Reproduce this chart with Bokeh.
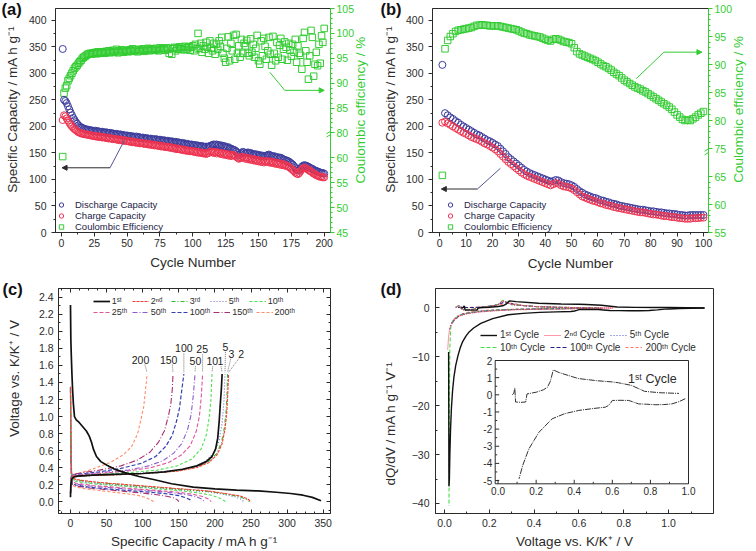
import numpy as np
from bokeh.plotting import figure
from bokeh.models import (Range1d, LinearAxis, FixedTicker, SingleIntervalTicker, Legend, LegendItem,
                          Arrow, NormalHead, Label, Title, PrintfTickFormatter, CustomJSTickFormatter)
from bokeh.layouts import column, row
from bokeh.embed import file_html
from bokeh.resources import INLINE
from bokeh.core.properties import value

FONT = "Liberation Sans"
DARK = "#2b2b2b"
GREEN = "#33cc33"
BLUE_M = "#3c3c9c"
RED_M = "#ee3350"
NB = "\u00a0"

# ======================= DATA =======================
# ---- (a) 200 cycles ----
a_cycle = list(range(1, 201))
a_dis = [346, 250, 248, 244, 238, 232, 226, 221, 216, 212,
         208, 205, 202, 200, 198, 197, 196, 195, 194, 194,
         193, 193, 192, 192, 191, 192, 190, 191, 190, 189,
         190, 189, 188, 189, 188, 187, 188, 186, 187, 186,
         185, 186, 185, 184, 185, 183, 184, 183, 182, 183,
         182, 181, 182, 180, 181, 180, 181, 179, 180, 179,
         178, 179, 178, 177, 178, 177, 176, 177, 176, 176,
         175, 176, 175, 174, 175, 174, 173, 174, 173, 172,
         173, 172, 171, 172, 171, 170, 171, 169, 170, 169,
         168, 169, 167, 168, 166, 167, 166, 165, 166, 165,
         164, 165, 163, 164, 163, 162, 163, 162, 161, 162,
         161, 162, 163, 164, 165, 166, 165, 166, 164, 165,
         163, 164, 162, 163, 161, 160, 161, 159, 158, 157,
         156, 155, 153, 150, 146, 148, 150, 152, 151, 149,
         150, 151, 149, 150, 148, 147, 148, 146, 147, 145,
         146, 144, 145, 143, 144, 145, 146, 147, 145, 144,
         143, 144, 142, 141, 142, 140, 141, 139, 138, 137,
         136, 135, 134, 132, 130, 128, 125, 122, 119, 117,
         118, 121, 124, 126, 127, 126, 125, 124, 122, 121,
         120, 118, 117, 116, 115, 114, 113, 112, 112, 111]
a_chg = [212, 221, 219, 215, 211, 207, 203, 200, 197, 195,
         193, 191, 189, 188, 187, 186, 186, 185, 185, 184,
         184, 183, 183, 182, 182, 181, 182, 180, 181, 180,
         179, 180, 179, 178, 179, 177, 178, 177, 176, 177,
         176, 175, 176, 174, 175, 174, 173, 174, 172, 173,
         172, 171, 172, 170, 171, 170, 169, 170, 169, 168,
         169, 168, 167, 168, 167, 166, 167, 165, 166, 165,
         164, 165, 164, 163, 164, 162, 163, 162, 161, 162,
         161, 160, 161, 159, 160, 158, 159, 157, 158, 157,
         156, 157, 155, 156, 154, 155, 154, 153, 154, 153,
         152, 153, 151, 152, 150, 151, 150, 149, 150, 148,
         149, 150, 152, 153, 151, 150, 152, 149, 151, 150,
         148, 150, 147, 149, 146, 148, 145, 147, 144, 146,
         146, 145, 143, 141, 139, 140, 142, 143, 141, 139,
         141, 138, 140, 137, 139, 136, 138, 135, 137, 134,
         136, 133, 135, 132, 134, 133, 135, 132, 134, 131,
         133, 130, 132, 129, 131, 128, 130, 127, 129, 126,
         127, 125, 124, 122, 120, 118, 116, 113, 111, 110,
         112, 116, 119, 121, 122, 121, 120, 118, 116, 115,
         113, 111, 110, 108, 107, 106, 105, 105, 104, 104]
a_ce = [61, 88, 89, 89.5, 90.5, 91, 91.5, 92, 92.5, 93,
        93.3, 93.6, 94, 94.3, 94.6, 95, 95.2, 95.4, 95.6, 95.8,
        95.9, 96, 95.8, 96.1, 96, 96.2, 95.9, 96.3, 96, 96.2,
        96.1, 96.3, 96, 96.4, 96.2, 96.5, 96.1, 96.3, 96.6, 96.2,
        96.4, 96.8, 96.1, 96.5, 96.3, 96.7, 96.2, 96.6, 96.4, 96.5,
        96.3, 96.7, 96.5, 96.9, 96.4, 96.6, 96.8, 96.3, 96.7, 96.5,
        96.6, 96.9, 96.4, 96.8, 96.6, 97, 96.5, 96.9, 96.7, 96.8,
        96.6, 97, 96.8, 96.5, 97.1, 96.7, 96.9, 97, 96.6, 97.1,
        96.8, 96, 97, 95.8, 96.9, 97.2, 96.5, 97.1, 96.8, 97.3,
        96.9, 97.2, 96.7, 97.4, 96.8, 97.1, 97.3, 96.6, 97.2, 97.5,
        96.5, 97.8, 96.9, 100, 97, 98, 96.2, 97.5, 96.8, 98.2,
        97.2, 96, 98.5, 97, 96.5, 98, 95.8, 97.8, 96.8, 98.5,
        97.4, 99.2, 96, 95, 94.2, 97, 99.3, 94.5, 98, 96.5,
        99.6, 94.8, 99.8, 96, 97.5, 95.2, 98.8, 96, 98, 97.5,
        98.6, 96, 95.5, 98.9, 96.2, 97.8, 95.2, 97, 99.6, 94.5,
        93.8, 98.5, 95.5, 99, 97.4, 94.8, 96.5, 99.2, 95.8, 93.6,
        99.4, 96, 94.5, 98.2, 95.2, 97.6, 99, 94.8, 96.8, 98.3,
        97.2, 94.6, 98, 96.6, 95.4, 97.8, 96.2, 98.8, 94.2, 97.5,
        96, 95.6, 92.8, 99, 100.2, 96.5, 94.2, 90.8, 95.5, 100.6,
        99.2, 91.4, 93.8, 96.2, 93.5, 97.8, 94, 99.5, 98.2, 101]
a_ce_ticks = [45, 50, 55, 60, 80, 85, 90, 95, 100, 105]

# ---- (b) 100 cycles ----
b_cycle = list(range(1, 101))
b_dis = [316, 225, 221, 217, 214, 210, 207, 203, 200, 197,
         194, 191, 188, 185, 183, 180, 177, 174, 172, 169,
         166, 163, 158, 153, 148, 142, 138, 134, 130, 126,
         122, 118, 115, 112, 110, 108, 106, 104, 102, 100,
         98, 96, 97, 99, 98, 95, 93, 92, 91, 89,
         86, 82, 78, 75, 72, 70, 68, 66, 65, 63,
         61, 60, 58, 57, 55, 54, 53, 51, 50, 49,
         48, 47, 46, 45, 44, 43, 43, 42, 41, 40,
         40, 39, 38, 38, 37, 36, 36, 35, 35, 34,
         33, 33, 32, 32, 33, 33, 33, 33, 33, 33]
b_chg = [207, 209, 206, 203, 200, 197, 194, 191, 188, 186,
         183, 180, 178, 176, 174, 171, 168, 166, 163, 160,
         157, 153, 148, 143, 138, 133, 129, 125, 121, 117,
         113, 110, 107, 105, 103, 101, 99, 97, 95, 93,
         91, 89, 91, 93, 92, 89, 87, 86, 85, 83,
         80, 76, 72, 68, 66, 64, 62, 60, 59, 57,
         55, 54, 52, 51, 50, 48, 47, 46, 45, 44,
         43, 42, 41, 40, 39, 38, 38, 37, 36, 35,
         34, 34, 33, 32, 31, 31, 30, 29, 29, 28,
         27, 27, 26, 26, 26, 27, 27, 27, 28, 28]
b_ce = [65.4, 92.8, 94.3, 95.0, 95.5, 95.9, 96.1, 96.2, 96.3, 96.4,
        96.5, 96.6, 96.8, 97.0, 97.0, 97.1, 97.0, 97.0, 96.9, 96.9,
        96.9, 96.9, 96.8, 96.7, 96.6, 96.5, 96.4, 96.3, 96.2, 96.0,
        95.8, 95.6, 95.5, 95.3, 95.2, 95.1, 95.0, 94.9, 94.7, 94.5,
        94.3, 94.2, 94.5, 94.6, 94.5, 94.3, 94.1, 94.0, 93.9, 93.7,
        93.0, 92.3, 91.9, 91.7, 91.5, 91.3, 91.1, 90.9, 90.7, 90.4,
        90.1, 89.8, 89.6, 89.3, 89.0, 88.6, 88.3, 88.0, 87.6, 87.2,
        86.9, 86.6, 86.3, 86.0, 85.8, 85.6, 85.3, 85.1, 84.8, 84.5,
        84.2, 83.9, 83.6, 83.3, 83.0, 82.7, 82.4, 82.0, 81.5, 81.0,
        80.6, 80.2, 80.0, 80.1, 80.0, 80.3, 80.6, 81.0, 81.3, 81.6]
b_ce_ticks = [55, 60, 65, 75, 80, 85, 90, 95, 100]

# ---- (c) charge/discharge profiles (capacity mAh/g, voltage V) ----
c1_dis_x = [0, 0.5, 1.2, 2, 3, 4, 5.5, 8, 12, 17, 22, 26, 29, 32, 36, 42, 50, 60, 75, 95, 115, 140, 170, 200, 230, 260, 285, 305, 322, 335, 347]
c1_dis_v = [2.31, 1.9, 1.7, 1.5, 1.3, 1.15, 1.0, 0.96, 0.93, 0.88, 0.83, 0.77, 0.70, 0.61, 0.53, 0.47, 0.43, 0.385, 0.34, 0.295, 0.26, 0.21, 0.17, 0.15, 0.135, 0.125, 0.11, 0.095, 0.075, 0.05, 0.01]
c1_chg_x = [0, 0.5, 2, 5, 10, 30, 60, 100, 130, 155, 175, 188, 196, 201, 204, 206, 207.5, 209, 210]
c1_chg_v = [0.05, 0.2, 0.27, 0.29, 0.30, 0.31, 0.32, 0.33, 0.35, 0.38, 0.42, 0.47, 0.53, 0.62, 0.75, 0.95, 1.15, 1.33, 1.5]
c2_dis_x = [0, 0.5, 1.5, 3, 8, 20, 40, 70, 100, 130, 160, 190, 215, 235, 245, 250]
c2_dis_v = [1.35, 0.8, 0.35, 0.28, 0.26, 0.245, 0.225, 0.205, 0.185, 0.165, 0.145, 0.125, 0.095, 0.065, 0.035, 0.0]
c2_chg_x = [0, 1, 3, 10, 40, 80, 120, 150, 175, 192, 203, 210, 214, 216.5, 218, 219]
c2_chg_v = [0.1, 0.26, 0.29, 0.30, 0.31, 0.32, 0.34, 0.36, 0.40, 0.46, 0.55, 0.68, 0.85, 1.05, 1.3, 1.5]
c3_dis_x = [0, 0.5, 1.5, 3, 8, 20, 40, 70, 100, 130, 160, 190, 215, 233, 243, 248]
c3_dis_v = [1.35, 0.8, 0.34, 0.27, 0.255, 0.24, 0.22, 0.2, 0.18, 0.16, 0.14, 0.12, 0.09, 0.06, 0.03, 0.0]
c3_chg_x = [0, 1, 3, 10, 40, 80, 120, 150, 175, 191, 202, 209, 213, 215.5, 217, 217.5]
c3_chg_v = [0.1, 0.26, 0.29, 0.30, 0.31, 0.32, 0.34, 0.365, 0.405, 0.47, 0.56, 0.69, 0.86, 1.06, 1.3, 1.5]
c5_dis_x = [0, 0.5, 1.5, 3, 8, 20, 40, 70, 100, 130, 160, 190, 212, 228, 236, 240]
c5_dis_v = [1.34, 0.75, 0.33, 0.26, 0.245, 0.23, 0.21, 0.19, 0.17, 0.155, 0.135, 0.115, 0.085, 0.055, 0.028, 0.0]
c5_chg_x = [0, 1, 3, 10, 40, 80, 120, 150, 172, 188, 199, 206, 210, 212.5, 214]
c5_chg_v = [0.1, 0.26, 0.29, 0.30, 0.31, 0.325, 0.345, 0.37, 0.41, 0.48, 0.58, 0.72, 0.92, 1.18, 1.5]
c10_dis_x = [0, 0.5, 1.5, 3, 8, 30, 60, 90, 120, 150, 175, 195, 207, 215]
c10_dis_v = [1.34, 0.7, 0.3, 0.25, 0.235, 0.21, 0.19, 0.17, 0.15, 0.13, 0.105, 0.075, 0.04, 0.0]
c10_chg_x = [0, 1, 3, 10, 40, 80, 120, 148, 168, 181, 188, 192, 194.5, 196]
c10_chg_v = [0.1, 0.26, 0.29, 0.30, 0.32, 0.34, 0.37, 0.42, 0.5, 0.62, 0.78, 0.98, 1.2, 1.5]
c25_dis_x = [0, 0.5, 1.5, 3, 8, 30, 60, 90, 120, 150, 170, 183, 191, 195]
c25_dis_v = [1.34, 0.65, 0.28, 0.23, 0.215, 0.19, 0.17, 0.15, 0.13, 0.11, 0.085, 0.06, 0.03, 0.0]
c25_chg_x = [0, 1, 3, 10, 40, 80, 112, 136, 154, 166, 174, 178.5, 181, 183]
c25_chg_v = [0.1, 0.27, 0.30, 0.31, 0.33, 0.36, 0.40, 0.46, 0.55, 0.66, 0.82, 1.0, 1.22, 1.5]
c50_dis_x = [0, 0.5, 1.5, 3, 8, 30, 60, 90, 120, 145, 162, 175, 182, 185]
c50_dis_v = [1.33, 0.6, 0.27, 0.22, 0.205, 0.18, 0.16, 0.14, 0.12, 0.1, 0.08, 0.055, 0.03, 0.0]
c50_chg_x = [0, 1, 3, 10, 40, 80, 108, 128, 143, 154, 162, 167, 170, 172.5]
c50_chg_v = [0.1, 0.27, 0.30, 0.31, 0.34, 0.37, 0.42, 0.48, 0.57, 0.68, 0.84, 1.02, 1.24, 1.5]
c100_dis_x = [0, 0.5, 1.5, 3, 8, 25, 50, 80, 110, 135, 150, 160, 166, 168]
c100_dis_v = [1.32, 0.55, 0.26, 0.21, 0.195, 0.17, 0.15, 0.13, 0.11, 0.09, 0.07, 0.045, 0.02, 0.0]
c100_chg_x = [0, 1, 3, 10, 40, 70, 98, 118, 132, 141, 147, 151, 154, 157]
c100_chg_v = [0.1, 0.28, 0.31, 0.32, 0.35, 0.39, 0.45, 0.53, 0.65, 0.78, 0.95, 1.1, 1.3, 1.5]
c150_dis_x = [0, 0.5, 1.5, 3, 8, 25, 50, 75, 100, 120, 135, 144, 148, 150]
c150_dis_v = [1.3, 0.5, 0.25, 0.2, 0.185, 0.16, 0.14, 0.12, 0.1, 0.08, 0.06, 0.04, 0.02, 0.0]
c150_chg_x = [0, 1, 3, 10, 40, 70, 93, 110, 122, 130, 135.5, 139, 141, 142]
c150_chg_v = [0.1, 0.29, 0.32, 0.33, 0.37, 0.42, 0.49, 0.58, 0.70, 0.83, 1.0, 1.15, 1.32, 1.5]
c200_dis_x = [0, 0.5, 1.5, 3, 8, 20, 40, 60, 80, 95, 105, 111, 115]
c200_dis_v = [1.3, 0.5, 0.24, 0.19, 0.17, 0.15, 0.13, 0.11, 0.09, 0.07, 0.045, 0.02, 0.0]
c200_chg_x = [0, 1, 3, 10, 30, 55, 73, 85, 93, 98, 101.5, 103.5, 105, 106]
c200_chg_v = [0.1, 0.29, 0.32, 0.33, 0.38, 0.46, 0.55, 0.65, 0.80, 0.98, 1.12, 1.28, 1.4, 1.5]
c_legend_labels = ["1ˢᵗ", "2ⁿᵈ", "3ʳᵈ", "5ᵗʰ", "10ᵗʰ", "25ᵗʰ", "50ᵗʰ", "100ᵗʰ", "150ᵗʰ", "200ᵗʰ"]
c_num_text = ["200", "150", "100", "50", "25", "10", "1", "5", "3", "2"]
c_num_x = [97, 136, 157, 173, 182.4, 196.3, 207.8, 214.6, 223, 236.4]
c_num_v = [1.66, 1.66, 1.80, 1.65, 1.79, 1.65, 1.65, 1.82, 1.74, 1.74]
c_lead_x0 = [103, 141, 157, 173, 183, 197, 208.5, 214.6, 222, 233]
c_lead_v0 = [1.61, 1.61, 1.74, 1.59, 1.73, 1.59, 1.59, 1.76, 1.68, 1.68]
c_lead_x1 = [106, 142, 157, 172.5, 183, 196, 210, 214, 217.5, 219]
c_lead_v1 = [1.52, 1.52, 1.52, 1.52, 1.52, 1.52, 1.52, 1.52, 1.52, 1.52]

# ---- (d) dQ/dV (voltage V, dQ/dV) ----
d1_dis_v = [1.16, 1.1, 1.05, 1.0, 0.983, 0.95, 0.913, 0.87, 0.825, 0.78, 0.738, 0.71, 0.686, 0.64, 0.6, 0.59, 0.58, 0.564, 0.5, 0.424,
            0.35, 0.284, 0.215, 0.162, 0.13, 0.11, 0.095, 0.08, 0.07, 0.06, 0.05, 0.042, 0.036, 0.031, 0.027, 0.024, 0.022, 0.02, 0.0185]
d1_dis_q = [0.0, -0.05, -0.12, -0.2, -0.23, -0.4, -0.53, -0.57, -0.58, -0.55, -0.53, -0.42, -0.33, -0.32, -0.33, -0.5, -0.62, -0.72, -0.8, -0.91,
            -1.1, -1.4, -2.18, -3.15, -4.1, -4.9, -5.8, -7.0, -8.2, -9.8, -11.8, -14.2, -17, -20.5, -25, -30, -35, -36.5, -9.0]
d1_chg_v = [0.075, 0.083, 0.088, 0.092, 0.12, 0.145, 0.152, 0.2, 0.24, 0.26, 0.275, 0.29, 0.32, 0.42, 0.52, 0.6, 0.633, 0.7, 0.77, 0.85, 0.95, 1.0, 1.08, 1.16]
d1_chg_q = [0.0, 0.1, 0.4, -0.42, -0.44, -0.42, 0.05, 0.15, 0.3, 0.45, 0.8, 1.45, 1.3, 0.95, 0.82, 0.75, 0.7, 0.55, 0.2, 0.12, 0.08, 0.08, 0.04, 0.0]
d2_dis_v = [0.75, 0.6, 0.5, 0.4, 0.3, 0.26, 0.22, 0.15, 0.1, 0.07, 0.05, 0.035, 0.025, 0.019, 0.016, 0.0145]
d2_dis_q = [-0.05, -0.15, -0.25, -0.3, -0.4, -0.5, -0.6, -0.85, -1.2, -1.6, -2.2, -3.0, -4.0, -5.5, -7.5, -8.5]
d2_chg_v = [0.05, 0.065, 0.075, 0.085, 0.12, 0.16, 0.2, 0.24, 0.26, 0.275, 0.3, 0.4, 0.5, 0.6, 0.75]
d2_chg_q = [0.1, 0.5, -0.2, -0.4, -0.35, 0.05, 0.25, 0.7, 1.5, 1.2, 0.7, 0.3, 0.15, 0.08, 0.02]
d5_dis_v = [0.7, 0.55, 0.45, 0.35, 0.28, 0.24, 0.2, 0.14, 0.1, 0.07, 0.05, 0.035, 0.027, 0.022]
d5_dis_q = [-0.05, -0.15, -0.22, -0.3, -0.38, -0.45, -0.55, -0.8, -1.1, -1.5, -2.0, -2.8, -3.6, -4.5]
d5_chg_v = [0.05, 0.065, 0.075, 0.085, 0.12, 0.16, 0.2, 0.24, 0.26, 0.275, 0.3, 0.4, 0.5, 0.6, 0.7]
d5_chg_q = [0.1, 0.45, -0.15, -0.35, -0.3, 0.05, 0.25, 0.65, 1.4, 1.15, 0.65, 0.3, 0.15, 0.07, 0.02]
d10_dis_v = [0.7, 0.55, 0.45, 0.35, 0.28, 0.24, 0.2, 0.14, 0.1, 0.07, 0.05, 0.035, 0.028, 0.024, 0.022, 0.021, 0.02]
d10_dis_q = [-0.05, -0.12, -0.2, -0.28, -0.36, -0.45, -0.55, -0.8, -1.1, -1.5, -2.0, -2.8, -4.0, -8.0, -20, -35, -40.5]
d10_chg_v = [0.05, 0.065, 0.075, 0.085, 0.12, 0.16, 0.2, 0.24, 0.26, 0.275, 0.3, 0.4, 0.5, 0.6, 0.7]
d10_chg_q = [0.15, 0.5, -0.1, -0.3, -0.3, 0.1, 0.3, 0.75, 1.6, 1.25, 0.7, 0.3, 0.15, 0.07, 0.02]
d100_dis_v = [0.65, 0.5, 0.4, 0.32, 0.27, 0.22, 0.16, 0.12, 0.08, 0.06, 0.045, 0.035, 0.03]
d100_dis_q = [-0.05, -0.15, -0.22, -0.3, -0.38, -0.5, -0.7, -0.95, -1.3, -1.8, -2.4, -3.0, -3.5]
d100_chg_v = [0.06, 0.08, 0.1, 0.14, 0.18, 0.22, 0.25, 0.27, 0.29, 0.32, 0.4, 0.5, 0.65]
d100_chg_q = [0.1, 0.2, 0.1, 0.1, 0.25, 0.5, 0.9, 1.2, 1.0, 0.6, 0.3, 0.12, 0.02]
d200_dis_v = [0.6, 0.5, 0.4, 0.32, 0.26, 0.2, 0.15, 0.11, 0.08, 0.06, 0.045, 0.035]
d200_dis_q = [-0.05, -0.1, -0.18, -0.25, -0.33, -0.45, -0.6, -0.85, -1.2, -1.6, -2.2, -2.8]
d200_chg_v = [0.07, 0.1, 0.14, 0.18, 0.22, 0.26, 0.29, 0.31, 0.34, 0.4, 0.5, 0.6]
d200_chg_q = [0.1, 0.1, 0.15, 0.25, 0.45, 0.75, 1.0, 0.9, 0.6, 0.3, 0.12, 0.02]
d_legend_labels = ["1ˢᵗ Cycle", "2ⁿᵈ Cycle", "5ᵗʰ Cycle", "10ᵗʰ Cycle", "100ᵗʰ Cycle", "200ᵗʰ Cycle"]
inset_xticks = [0.0, 0.2, 0.4, 0.6, 0.8, 1.0]
inset_yticks = [-5, -4, -3, -2, -1, 0, 1, 2]


# ======================= HELPERS =======================
def make_fig(w, h, xr, yr, bl, br, bt, bb):
    p = figure(width=w, height=h, x_range=Range1d(*xr), y_range=Range1d(*yr),
               output_backend="svg", toolbar_location=None, title=None,
               min_border=0, min_border_left=bl, min_border_right=br,
               min_border_top=bt, min_border_bottom=bb)
    p.xgrid.visible = False
    p.ygrid.visible = False
    p.outline_line_color = DARK
    p.outline_line_width = 1
    p.background_fill_color = "white"
    p.border_fill_color = "white"
    return p


def style_axis(ax, inward, color=DARK, label_color=DARK, fs="10.5px", standoff=4):
    if inward:
        ax.major_tick_in, ax.major_tick_out = 4, 0
        ax.minor_tick_in, ax.minor_tick_out = 2, 0
    else:
        ax.major_tick_in, ax.major_tick_out = 0, 4
        ax.minor_tick_in, ax.minor_tick_out = 0, 2
    ax.axis_line_color = color
    ax.major_tick_line_color = color
    ax.minor_tick_line_color = color
    ax.major_label_text_color = label_color
    ax.major_label_text_font = FONT
    ax.major_label_text_font_size = fs
    ax.major_label_standoff = standoff


def set_title(ax, text, standoff, color=DARK, size="13.5px"):
    ax.axis_label = text
    ax.axis_label_standoff = int(round(standoff))
    ax.axis_label_text_font = FONT
    ax.axis_label_text_font_size = size
    ax.axis_label_text_font_style = "normal"
    ax.axis_label_text_color = color


def add_letter(p, text, offset):
    p.add_layout(Title(text=text, align="left", offset=offset, standoff=-18, vertical_align="bottom",
                       text_font=FONT, text_font_size="16.5px", text_font_style="bold",
                       text_color="#111111"), "above")


def add_text(p, text, x, y, color=DARK, size="12.5px", x_range_name="default", y_range_name="default"):
    p.add_layout(Label(x=x, y=y, text=text, text_align="center", text_baseline="middle",
                       text_color=color, text_font=FONT, text_font_size=size,
                       x_range_name=x_range_name, y_range_name=y_range_name))


def mirror_axis(p, place, ticker):
    ax = LinearAxis(ticker=ticker, formatter=CustomJSTickFormatter(code="return ''"))
    style_axis(ax, True)
    ax.major_label_standoff = 0
    p.add_layout(ax, place)


def broken_ticks(ticks):
    minors = []
    for i in range(len(ticks) - 1):
        if ticks[i + 1] - ticks[i] == 5:
            minors += [i + 0.2, i + 0.4, i + 0.6, i + 0.8]
    return minors


def cycling_panel(letter, cycles, dis, chg, ce, ce_ticks, xr, bl, br, bb, xint, leg_loc, leg_pad,
                  break_idx, arrows, std_left, std_bottom, letter_off, rtitle_pos):
    yr = (0, 422.3)
    p = make_fig(378, 275, xr, yr, bl, br, 8, bb)
    n = len(ce_ticks)
    p.extra_y_ranges = {"ce": Range1d(0, n - 1)}
    p.xaxis.ticker = SingleIntervalTicker(interval=xint, num_minor_ticks=2)
    p.yaxis.ticker = SingleIntervalTicker(interval=50, num_minor_ticks=2)
    style_axis(p.xaxis[0], False, standoff=2)
    style_axis(p.yaxis[0], False, standoff=5)
    set_title(p.yaxis[0], NB * 6 + "Specific Capacity / mA h g⁻¹", std_left)
    set_title(p.xaxis[0], "Cycle Number", std_bottom)
    ra = LinearAxis(y_range_name="ce",
                    ticker=FixedTicker(ticks=list(range(n)), minor_ticks=broken_ticks(ce_ticks)),
                    major_label_overrides={i: str(t) for i, t in enumerate(ce_ticks)})
    style_axis(ra, False, color=GREEN, label_color=GREEN, standoff=2)
    p.add_layout(ra, "right")
    # right-side title, drawn as a rotated label of an outer bare axis (reads bottom-to-top)
    rt = LinearAxis(y_range_name="ce", ticker=FixedTicker(ticks=[rtitle_pos], minor_ticks=[]),
                    major_label_overrides={rtitle_pos: "Coulombic efficiency / %"},
                    major_label_orientation=float(np.pi / 2))
    rt.axis_line_color = None
    rt.major_tick_line_color = None
    rt.minor_tick_line_color = None
    rt.major_tick_in, rt.major_tick_out = 0, 0
    rt.minor_tick_in, rt.minor_tick_out = 0, 0
    rt.major_label_standoff = 3
    rt.major_label_text_color = GREEN
    rt.major_label_text_font = FONT
    rt.major_label_text_font_size = "13.5px"
    p.add_layout(rt, "right")

    ce_idx = np.interp(ce, ce_ticks, list(range(n)))
    r_ce = p.scatter(cycles, ce_idx, y_range_name="ce", marker="square", size=6.5,
                     fill_color=None, line_color=GREEN, line_width=1)
    r_dis = p.scatter(cycles, dis, marker="circle", size=7, fill_color=None,
                      line_color=BLUE_M, line_width=1)
    r_chg = p.scatter(cycles, chg, marker="circle", size=7, fill_color=None,
                      line_color=RED_M, line_width=1)
    leg = Legend(items=[LegendItem(label="Discharge Capacity", renderers=[r_dis]),
                        LegendItem(label="Charge Capacity", renderers=[r_chg]),
                        LegendItem(label="Coulombic Efficiency", renderers=[r_ce])],
                 location=leg_loc, padding=leg_pad, margin=0, spacing=0,
                 label_height=11, glyph_height=11, glyph_width=12, label_standoff=8,
                 border_line_color=None, background_fill_alpha=0,
                 label_text_font=FONT, label_text_font_size="9.5px", label_text_color="#222244")
    p.add_layout(leg)
    # broken-axis marks on the right axis
    dx = 4.0 * (xr[1] - xr[0]) / (378 - bl - br)
    for k in (0.0, 0.13):
        p.add_layout(Arrow(x_start=xr[1] - dx, y_start=break_idx + k - 0.09,
                           x_end=xr[1] + dx, y_end=break_idx + k + 0.09, end=None,
                           y_range_name="ce", line_color=GREEN, line_width=1))
    # guide arrows
    (bx0, by0, bx1, by1, bx2), (gx0, gy0, gx1, gy1, gx2) = arrows
    p.line([bx0, bx1], [by0, by1], line_color="#55559a", line_width=1)
    p.add_layout(Arrow(x_start=bx1, y_start=by1, x_end=bx2, y_end=by1, line_color=DARK, line_width=1,
                       end=NormalHead(size=5, fill_color=DARK, line_color=DARK)))
    p.line([gx0, gx1], [gy0, gy1], line_color=GREEN, line_width=1)
    p.add_layout(Arrow(x_start=gx1, y_start=gy1, x_end=gx2, y_end=gy1, line_color=GREEN, line_width=1,
                       end=NormalHead(size=5, fill_color=GREEN, line_color=GREEN)))
    add_letter(p, letter, letter_off)
    return p


# ======================= (a) & (b) =======================
pa = cycling_panel("(a)", a_cycle, a_dis, a_chg, a_ce, a_ce_ticks, (-4.5, 204.8), 55, 45, 43, 25,
                   (0, 0), 5, 3.93,
                   ((48, 174, 37, 122, 0.5), (158.6, 302, 170, 268, 200)),
                   6, 5, -54, 4.88)
pb = cycling_panel("(b)", b_cycle, b_dis, b_chg, b_ce, b_ce_ticks, (-2.75, 101.9), 54, 43, 42, 10,
                   (12, 0), 3, 2.86,
                   ((23, 121, 14.3, 82, 0.6), (74.5, 290, 85, 340, 99.4)),
                   5, 6, -52, 4.31)

# ======================= (c) =======================
c_xr, c_yr = (-16.6, 360.1), (-0.14, 2.505)
pc = make_fig(378, 276, c_xr, c_yr, 58, 48, 11, 38)
pc.xaxis.ticker = SingleIntervalTicker(interval=50, num_minor_ticks=4)
pc.yaxis.ticker = SingleIntervalTicker(interval=0.2, num_minor_ticks=2)
pc.yaxis.formatter = PrintfTickFormatter(format="%.1f")
style_axis(pc.xaxis[0], True, standoff=5)
style_axis(pc.yaxis[0], True, standoff=5)
set_title(pc.yaxis[0], NB * 12 + "Voltage vs. K/K⁺ / V", 14)
set_title(pc.xaxis[0], "Specific Capacity / mA h g⁻¹", 4)
mirror_axis(pc, "above", SingleIntervalTicker(interval=50, num_minor_ticks=4))
mirror_axis(pc, "right", SingleIntervalTicker(interval=0.2, num_minor_ticks=2))

c_series = [
    ("200ᵗʰ", "#ff8c6a", "3 2", 1.1, c200_dis_x, c200_dis_v, c200_chg_x, c200_chg_v),
    ("150ᵗʰ", "#a5306e", "6 2 1 2", 1.1, c150_dis_x, c150_dis_v, c150_chg_x, c150_chg_v),
    ("100ᵗʰ", "#3140b0", "4 2", 1.2, c100_dis_x, c100_dis_v, c100_chg_x, c100_chg_v),
    ("50ᵗʰ", "#8c5ccc", "5 2 1 2", 1.1, c50_dis_x, c50_dis_v, c50_chg_x, c50_chg_v),
    ("25ᵗʰ", "#e0559a", "4 2", 1.1, c25_dis_x, c25_dis_v, c25_chg_x, c25_chg_v),
    ("10ᵗʰ", "#4fe04f", "3 2", 1.1, c10_dis_x, c10_dis_v, c10_chg_x, c10_chg_v),
    ("5ᵗʰ", "#7474d0", "1 2", 1.2, c5_dis_x, c5_dis_v, c5_chg_x, c5_chg_v),
    ("3ʳᵈ", "#27c227", "4 2 1 2", 1.1, c3_dis_x, c3_dis_v, c3_chg_x, c3_chg_v),
    ("2ⁿᵈ", "#ff3a3a", "3 1", 1.1, c2_dis_x, c2_dis_v, c2_chg_x, c2_chg_v),
]
c_rend = {}
for lbl, col, dash, lw, dx_, dv_, cx_, cv_ in c_series:
    pc.line(dx_, dv_, line_color=col, line_dash=dash, line_width=lw)
    c_rend[lbl] = pc.line(cx_, cv_, line_color=col, line_dash=dash, line_width=lw)
pc.line(c1_dis_x, c1_dis_v, line_color="#111111", line_width=1.7)
c_rend["1ˢᵗ"] = pc.line(c1_chg_x, c1_chg_v, line_color="#111111", line_width=1.7)

pc.segment(c_lead_x0, c_lead_v0, c_lead_x1, c_lead_v1, line_color="#666666", line_dash="1 1", line_width=0.9)
pc.text(c_num_x, c_num_v, text=c_num_text, text_font=value(FONT), text_font_size=value("10.5px"),
        text_align="center", text_baseline="middle", text_color="#222222")

for row_labels, loc in ((c_legend_labels[:5], (34.7, 207.5)), (c_legend_labels[5:], (34.7, 196.5))):
    lg = Legend(items=[LegendItem(label=l, renderers=[c_rend[l]]) for l in row_labels],
                location=loc, orientation="horizontal", padding=0, margin=0, spacing=3,
                glyph_width=17, glyph_height=10, label_height=10, label_width=17, label_standoff=2,
                border_line_color=None, background_fill_alpha=0,
                label_text_font=FONT, label_text_font_size="9px", label_text_color=DARK)
    pc.add_layout(lg)
add_letter(pc, "(c)", -56)

# ======================= (d) =======================
d_xr, d_yr = (-0.04, 1.2), (-42.05, 3.98)
D_BL, D_BR, D_BT, D_BB = 57, 43, 13, 38
pd_ = make_fig(378, 276, d_xr, d_yr, D_BL, D_BR, D_BT, D_BB)
pd_.xaxis.ticker = SingleIntervalTicker(interval=0.2, num_minor_ticks=2)
pd_.xaxis.formatter = PrintfTickFormatter(format="%.1f")
pd_.yaxis.ticker = SingleIntervalTicker(interval=10, num_minor_ticks=2)
style_axis(pd_.xaxis[0], True, standoff=5)
style_axis(pd_.yaxis[0], True, standoff=6)
set_title(pd_.yaxis[0], "dQ/dV / mA h g⁻¹ V⁻¹" + NB * 12, 11)
set_title(pd_.xaxis[0], "Voltage vs. K/K⁺ / V", 4)

# inset geometry (pixels inside the (d) canvas) -> extra ranges
fx0, fx1, fy0, fy1 = D_BL, 378 - D_BR, D_BT, 276 - D_BB
ins_px = (116.7, 310.0, 85.0, 208.3)       # left, right, top, bottom
ins_x0, ins_x1, ins_y0, ins_y1 = -0.015, 1.0, -5.19, 2.0
kx = (ins_px[1] - ins_px[0]) / (ins_x1 - ins_x0)
ky = (ins_px[3] - ins_px[2]) / (ins_y1 - ins_y0)
pd_.extra_x_ranges = {"ix": Range1d(ins_x0 - (ins_px[0] - fx0) / kx, ins_x1 + (fx1 - ins_px[1]) / kx)}
pd_.extra_y_ranges = {"iy": Range1d(ins_y0 - (fy1 - ins_px[3]) / ky, ins_y1 + (ins_px[2] - fy0) / ky)}

d_series = [
    ("200ᵗʰ Cycle", "#ff7766", "3 2", d200_dis_v, d200_dis_q, d200_chg_v, d200_chg_q),
    ("100ᵗʰ Cycle", "#222288", "4 2", d100_dis_v, d100_dis_q, d100_chg_v, d100_chg_q),
    ("10ᵗʰ Cycle", "#44dd44", "4 2", d10_dis_v, d10_dis_q, d10_chg_v, d10_chg_q),
    ("5ᵗʰ Cycle", "#5555dd", "1 2", d5_dis_v, d5_dis_q, d5_chg_v, d5_chg_q),
    ("2ⁿᵈ Cycle", "#ff3355", "1 1", d2_dis_v, d2_dis_q, d2_chg_v, d2_chg_q),
]
d_rend = {}
for lbl, col, dash, dv_, dq_, cv_, cq_ in d_series:
    pd_.line(dv_, dq_, line_color=col, line_dash=dash, line_width=1.1)
    d_rend[lbl] = pd_.line(cv_, cq_, line_color=col, line_dash=dash, line_width=1.1)
pd_.line(d1_dis_v, d1_dis_q, line_color="#111111", line_width=1.4)
d_rend["1ˢᵗ Cycle"] = pd_.line(d1_chg_v, d1_chg_q, line_color="#111111", line_width=1.4)

for row_labels, loc in ((d_legend_labels[:3], (45, 172.7)), (d_legend_labels[3:], (45, 160.3))):
    lg = Legend(items=[LegendItem(label=l, renderers=[d_rend[l]]) for l in row_labels],
                location=loc, orientation="horizontal", padding=0, margin=0, spacing=5,
                glyph_width=17, glyph_height=10, label_height=10, label_standoff=3,
                border_line_color=None, background_fill_alpha=0,
                label_text_font=FONT, label_text_font_size="10px", label_text_color=DARK)
    pd_.add_layout(lg)

# inset box, ticks, labels and curve
pd_.quad(left=[ins_x0], right=[ins_x1], bottom=[ins_y0], top=[ins_y1], x_range_name="ix",
         y_range_name="iy", fill_color="white", line_color=DARK, line_width=1)
yt_len, xt_len = 4.0 / kx, 4.0 / ky
pd_.segment([ins_x0] * len(inset_yticks), inset_yticks, [ins_x0 + yt_len] * len(inset_yticks), inset_yticks,
            x_range_name="ix", y_range_name="iy", line_color=DARK, line_width=1)
pd_.segment(inset_xticks, [ins_y0] * len(inset_xticks), inset_xticks, [ins_y0 + xt_len] * len(inset_xticks),
            x_range_name="ix", y_range_name="iy", line_color=DARK, line_width=1)
minor_y = [t + 0.5 for t in inset_yticks[:-1]]
minor_x = [t + 0.1 for t in inset_xticks[:-1]]
pd_.segment([ins_x0] * len(minor_y), minor_y, [ins_x0 + yt_len / 2] * len(minor_y), minor_y,
            x_range_name="ix", y_range_name="iy", line_color=DARK, line_width=1)
pd_.segment(minor_x, [ins_y0] * len(minor_x), minor_x, [ins_y0 + xt_len / 2] * len(minor_x),
            x_range_name="ix", y_range_name="iy", line_color=DARK, line_width=1)
pd_.text([ins_x0] * len(inset_yticks), inset_yticks, text=[str(t) for t in inset_yticks], x_offset=-3,
         x_range_name="ix", y_range_name="iy", text_align="right", text_baseline="middle",
         text_font=value(FONT), text_font_size=value("10px"), text_color=DARK)
pd_.text(inset_xticks, [ins_y0] * len(inset_xticks), text=["%.1f" % t for t in inset_xticks], y_offset=3,
         x_range_name="ix", y_range_name="iy", text_align="center", text_baseline="top",
         text_font=value(FONT), text_font_size=value("10px"), text_color=DARK)
keep_d = [(v, q) for v, q in zip(d1_dis_v, d1_dis_q) if q >= -5.0 and v <= 0.99]
keep_c = [(v, q) for v, q in zip(d1_chg_v, d1_chg_q) if v <= 0.99]
pd_.line([v for v, q in keep_d], [q for v, q in keep_d], x_range_name="ix", y_range_name="iy",
         line_color="#333333", line_dash="6 1 1 1", line_width=1)
pd_.line([v for v, q in keep_c], [q for v, q in keep_c], x_range_name="ix", y_range_name="iy",
         line_color="#333333", line_dash="6 1 1 1", line_width=1)
add_text(pd_, "1ˢᵗ Cycle", 0.81, 0.93, x_range_name="ix", y_range_name="iy")
add_letter(pd_, "(d)", -55)

layout = column(row(pa, pb), row(pc, pd_))
open("out.html", "w").write(file_html(layout, INLINE))
